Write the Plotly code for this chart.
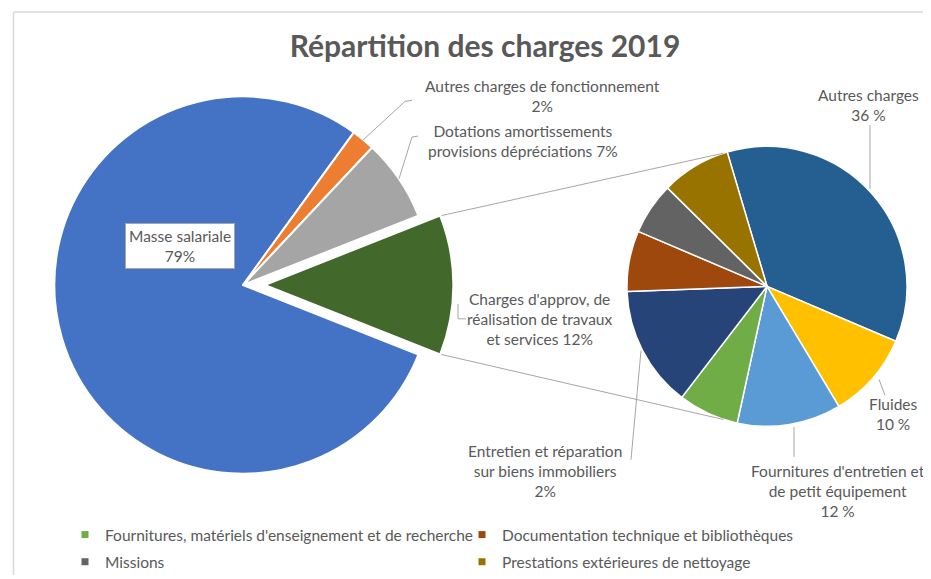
import math
import plotly.graph_objects as go

# The page body has an 8px default margin: the figure is drawn 8px in and
# sized to fill the rest of the 931x579 window.
PAGE_W, PAGE_H, OFF = 931, 579, 8
W, H = PAGE_W - OFF, PAGE_H - OFF

# ---------------- data ----------------
title_text = "Répartition des charges 2019"

# main pie (clockwise order, starting at the upper edge of the exploded slice)
main_labels = [
    "Charges d'approv, de réalisation de travaux et services",
    "Masse salariale",
    "Autres charges de fonctionnement",
    "Dotations amortissements provisions dépréciations",
]
main_values = [12, 79, 2, 7]
main_colors = ["#43682B", "#4472C4", "#ED7D31", "#A5A5A5"]
main_texts = [
    "Charges d'approv, de<br>réalisation de travaux<br>et services 12%",
    "Masse salariale<br>79%",
    "Autres charges de fonctionnement<br>2%",
    "Dotations amortissements<br>provisions dépréciations 7%",
]

# secondary pie (detail of "Charges d'approv...")
sub_labels = [
    "Autres charges",
    "Fluides",
    "Fournitures d'entretien et de petit équipement",
    "Fournitures, matériels d'enseignement et de recherche",
    "Entretien et réparation sur biens immobiliers",
    "Documentation technique et bibliothèques",
    "Missions",
    "Prestations extérieures de nettoyage",
]
sub_values = [36, 10, 12, 7, 14, 7, 6, 8]
sub_colors = ["#255E91", "#FFC000", "#5B9BD5", "#70AD47",
              "#264478", "#9E480E", "#636363", "#997300"]
sub_texts = [
    "Autres charges<br>36 %",
    "Fluides<br>10 %",
    "Fournitures d'entretien et<br>de petit équipement<br>12 %",
    None,
    "Entretien et réparation<br>sur biens immobiliers<br>2%",
    None, None, None,
]

# legend entries (two columns)
legend_col1 = [3, 6]   # indices in sub_labels
legend_col2 = [5, 7]

# ---------------- helpers (page pixels -> paper) ----------------
def fx(x):
    return (x - OFF) / W

def fy(y):
    return 1 - (y - OFF) / H

FONT = "Lato, 'Open Sans', sans-serif"
TXT = "#595959"
FS = 15.5

# geometry (page pixels)
MAIN_CX, MAIN_CY, MAIN_R, PULL = 243.0, 287.0, 190.0, 0.115
SUB_CX, SUB_CY, SUB_R = 767.0, 288.3, 141.0

main_box = MAIN_R * (2 + 2 * PULL)
sub_box = SUB_R * 2

total_main = sum(main_values)
half = main_values[0] / total_main * 180.0
main_rotation = 90.0 - half

fig = go.Figure()

fig.add_trace(go.Pie(
    labels=main_labels, values=main_values, sort=False,
    direction="clockwise", rotation=main_rotation,
    pull=[PULL, 0, 0, 0],
    marker=dict(colors=main_colors, line=dict(color="white", width=2)),
    textinfo="none", hoverinfo="label+percent", showlegend=False,
    domain=dict(x=[fx(MAIN_CX - main_box / 2), fx(MAIN_CX + main_box / 2)],
                y=[fy(MAIN_CY + main_box / 2), fy(MAIN_CY - main_box / 2)]),
))

fig.add_trace(go.Pie(
    labels=sub_labels, values=sub_values, sort=False,
    direction="clockwise", rotation=-16.5,
    marker=dict(colors=sub_colors, line=dict(color="white", width=1.5)),
    textinfo="none", hoverinfo="label+percent", showlegend=False,
    domain=dict(x=[fx(SUB_CX - sub_box / 2), fx(SUB_CX + sub_box / 2)],
                y=[fy(SUB_CY + sub_box / 2), fy(SUB_CY - sub_box / 2)]),
))

# legend entries
for col, lg in ((legend_col1, "legend"), (legend_col2, "legend2")):
    for i in col:
        fig.add_trace(go.Scatter(
            x=[None], y=[None], mode="markers", name=sub_labels[i],
            marker=dict(symbol="square", size=7, color=sub_colors[i]),
            legend=lg, legendgroup=sub_labels[i], showlegend=True,
        ))

# ---------------- connector lines (from pie geometry) ----------------
shapes = []
pcx = MAIN_CX + PULL * MAIN_R
a = math.radians(half)
b = math.radians(108)
for s in (1, -1):
    x0 = pcx + MAIN_R * math.cos(a)
    y0 = MAIN_CY - s * MAIN_R * math.sin(a)
    x1 = SUB_CX + SUB_R * math.cos(b)
    y1 = SUB_CY - s * SUB_R * math.sin(b)
    shapes.append(dict(type="line", xref="paper", yref="paper",
                       x0=fx(x0), y0=fy(y0), x1=fx(x1), y1=fy(y1),
                       line=dict(color="#a6a6a6", width=1)))

def path(pts):
    return "M " + " L ".join(f"{fx(x):.5f},{fy(y):.5f}" for x, y in pts)

leaders = [
    [(412, 101), (405, 102), (363, 141)],
    [(418, 137), (412, 138), (399, 180)],
    [(458, 306), (458, 321), (466, 321)],
    [(870, 126), (870, 190)],
    [(879, 382), (885, 398)],
    [(794, 430), (794, 460)],
    [(641, 353), (631, 463)],
]
for pts in leaders:
    shapes.append(dict(type="path", xref="paper", yref="paper", path=path(pts),
                       line=dict(color="#a6a6a6", width=1)))

# frame lines
frame = "#d9d9d9"
shapes += [
    dict(type="line", xref="paper", yref="paper", x0=fx(13.5), y0=fy(12), x1=fx(PAGE_W), y1=fy(12),
         line=dict(color=frame, width=1.5)),
    dict(type="line", xref="paper", yref="paper", x0=fx(13.5), y0=fy(12), x1=fx(13.5), y1=fy(PAGE_H),
         line=dict(color=frame, width=1.5)),
]

# ---------------- labels ----------------
ann = []
def label(text, x, y, **kw):
    d = dict(text=text, x=fx(x), y=fy(y), xref="paper", yref="paper",
             showarrow=False, xanchor="center", yanchor="middle",
             font=dict(family=FONT, size=FS, color=TXT), align="center")
    d.update(kw)
    ann.append(d)

label(main_texts[2], 542, 97)
label(main_texts[3], 523, 141.5)
label(main_texts[0], 539, 321.5)
label(main_texts[1], 180, 248, bgcolor="white", bordercolor="#a6a6a6",
      borderwidth=1, borderpad=3)
label(sub_texts[0], 868, 106)
label(sub_texts[1], 893, 417)
label(sub_texts[2], 838, 494.5)
label(sub_texts[4], 545, 474)

legend_style = dict(orientation="v", yanchor="top", xanchor="left",
                    bgcolor="rgba(0,0,0,0)", traceorder="grouped",
                    tracegroupgap=4, font=dict(family=FONT, size=FS, color=TXT))

fig.update_layout(
    width=W, height=H,
    margin=dict(l=0, r=0, t=0, b=0),
    paper_bgcolor="white", plot_bgcolor="white",
    title=dict(text=f"<b>{title_text}</b>", x=fx(485), y=fy(46),
               xanchor="center", yanchor="middle",
               font=dict(family=FONT, size=30, color=TXT)),
    xaxis=dict(visible=False), yaxis=dict(visible=False),
    legend=dict(x=fx(65), y=fy(522), **legend_style),
    legend2=dict(x=fx(462), y=fy(522), **legend_style),
    shapes=shapes, annotations=ann,
)

fig.write_html("out.html")
